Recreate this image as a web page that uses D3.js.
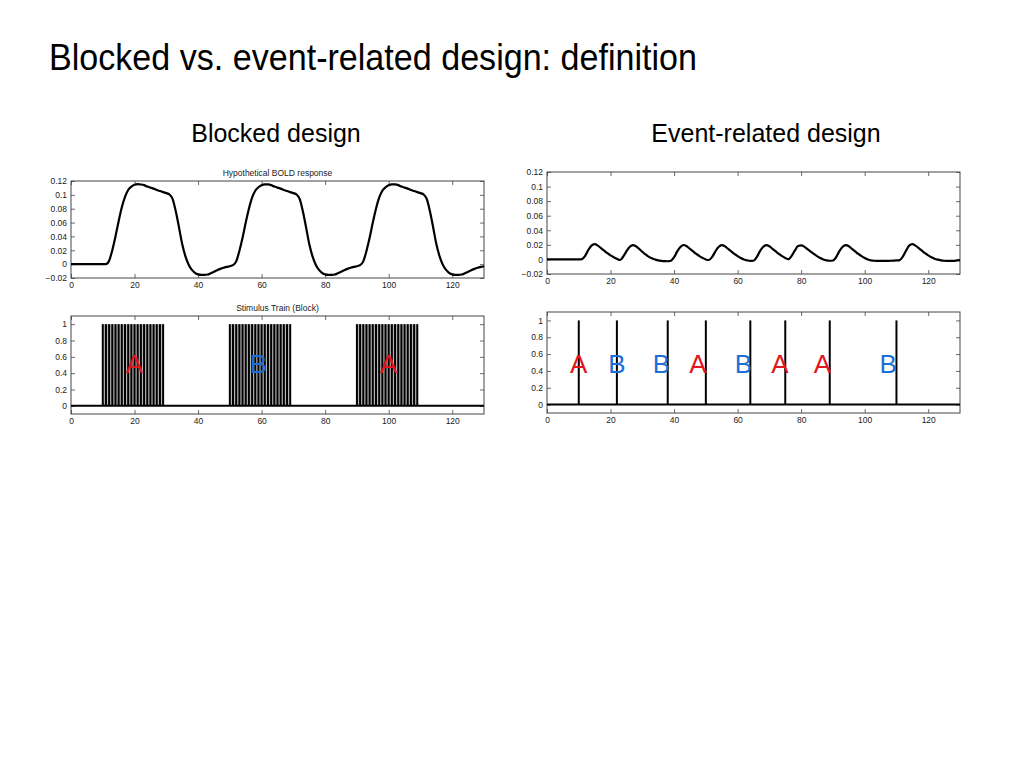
<!DOCTYPE html>
<html>
<head>
<meta charset="utf-8">
<script src="https://cdn.jsdelivr.net/npm/d3@7"></script>
<style>
  html, body { margin: 0; padding: 0; background: #fff; }
  svg { display: block; }
  text { font-family: "Liberation Sans", Arial, Helvetica, sans-serif; }
</style>
</head>
<body>
<svg id="chart" width="1024" height="768"></svg>
<script>
// ---------------- data ----------------
const pageTitle = "Blocked vs. event-related design: definition";
const leftHeading = "Blocked design";
const rightHeading = "Event-related design";
const boldTitle = "Hypothetical BOLD response";
const stimBlockTitle = "Stimulus Train (Block)";

const xTicks = [0, 20, 40, 60, 80, 100, 120];
const boldYTicks = [-0.02, 0, 0.02, 0.04, 0.06, 0.08, 0.1, 0.12];
const boldYLabels = ["\u22120.02", "0", "0.02", "0.04", "0.06", "0.08", "0.1", "0.12"];
const stimYTicks = [0, 0.2, 0.4, 0.6, 0.8, 1];
const stimYLabels = ["0", "0.2", "0.4", "0.6", "0.8", "1"];

// time (s), 0..130
const time = d3.range(0, 131);

// Blocked-design BOLD response
const boldBlock = [
  0,0,0,0,0,0,0,0,0,0,            // 0-9
  0,0,0.005,0.02,0.04,0.062,0.082,0.097,0.107,0.112, // 10-19
  0.1145,0.1155,0.115,0.114,0.112,0.1105,0.109,0.107,0.1055,0.104, // 20-29
  0.1025,0.1005,0.094,0.076,0.053,0.029,0.0115,-0.0005,-0.008,-0.0125, // 30-39
  -0.0148,-0.0156,-0.0155,-0.015,-0.013,-0.011,-0.0088,-0.0068,-0.0052,-0.004, // 40-49
  -0.003,-0.0015,0.004,0.019,0.038,0.06,0.08,0.096,0.106,0.111, // 50-59
  0.114,0.1152,0.115,0.114,0.112,0.1105,0.109,0.107,0.1055,0.104, // 60-69
  0.1025,0.1005,0.094,0.076,0.053,0.029,0.0115,-0.0005,-0.008,-0.0125, // 70-79
  -0.0148,-0.0156,-0.0155,-0.015,-0.013,-0.011,-0.0088,-0.0068,-0.0052,-0.004, // 80-89
  -0.003,-0.0015,0.004,0.019,0.038,0.06,0.08,0.096,0.106,0.111, // 90-99
  0.114,0.1152,0.115,0.114,0.112,0.1105,0.109,0.107,0.1055,0.104, // 100-109
  0.1025,0.1005,0.094,0.076,0.053,0.029,0.0115,-0.0005,-0.008,-0.0125, // 110-119
  -0.0148,-0.0156,-0.0155,-0.015,-0.013,-0.011,-0.0088,-0.0068,-0.0052,-0.004, // 120-129
  -0.003 // 130
];

// Event-related BOLD response
const boldEvent = [
  0,0,0,0,0,0,0,0,0,0,                       // 0-9
  0,0.0005,0.005,0.013,0.019,0.021,0.019,0.0155,0.012,0.0085, // 10-19
  0.0055,0.003,0.0008,-0.0008,0.004,0.011,0.017,0.0195,0.018,0.0145, // 20-29
  0.0105,0.0068,0.0038,0.0015,0.0,-0.0013,-0.002,-0.0024,-0.0025,-0.0018, // 30-39
  0.003,0.011,0.017,0.0198,0.018,0.0145,0.011,0.0075,0.0045,0.002, // 40-49
  0.0,-0.0008,0.0035,0.011,0.017,0.0195,0.018,0.0145,0.011,0.0075, // 50-59
  0.0045,0.002,0.0,-0.0012,-0.002,-0.0018,0.003,0.011,0.017,0.0195, // 60-69
  0.018,0.0145,0.011,0.0075,0.0045,0.002,0.0003,0.005,0.012,0.0185, // 70-79
  0.0192,0.0175,0.0142,0.0108,0.0075,0.0045,0.002,0.0,-0.0012,-0.0018, // 80-89
  -0.0015,0.003,0.011,0.017,0.0195,0.018,0.0145,0.011,0.0075,0.0045, // 90-99
  0.002,0.0,-0.0012,-0.0018,-0.002,-0.0021,-0.0021,-0.002,-0.0018,-0.0016, // 100-109
  -0.0014,-0.001,0.004,0.012,0.019,0.021,0.019,0.0155,0.012,0.0085, // 110-119
  0.0055,0.003,0.001,-0.0003,-0.0012,-0.0018,-0.002,-0.0021,-0.002,-0.0015, // 120-129
  -0.001 // 130
];

// Block stimulus onsets (one per second within each block)
const blockStarts = [10, 50, 90];
const blockEnds = [29, 69, 109];
const blockLabels = ["A", "B", "A"];
const blockLabelX = [20, 59, 100];
const blockStimuli = [
  10,11,12,13,14,15,16,17,18,19,20,21,22,23,24,25,26,27,28,29,
  50,51,52,53,54,55,56,57,58,59,60,61,62,63,64,65,66,67,68,69,
  90,91,92,93,94,95,96,97,98,99,100,101,102,103,104,105,106,107,108,109
];

// Event-related stimulus onsets
const eventTimes = [10, 22, 38, 50, 64, 75, 89, 110];
const eventLabels = ["A", "B", "B", "A", "B", "A", "A", "B"];
const eventLabelX = [10, 22, 36, 47.5, 61.8, 73.3, 86.7, 107.4];

const labelColor = { A: "#e3161e", B: "#1d6fd8" };

// ---------------- drawing ----------------
const svg = d3.select("#chart");

svg.append("text").attr("x", 49).attr("y", 70)
  .attr("font-size", 37).attr("fill", "#000")
  .attr("textLength", 648).attr("lengthAdjust", "spacingAndGlyphs")
  .text(pageTitle);

svg.append("text").attr("x", 276).attr("y", 142).attr("text-anchor", "middle")
  .attr("font-size", 25).attr("fill", "#000").text(leftHeading);
svg.append("text").attr("x", 766).attr("y", 142).attr("text-anchor", "middle")
  .attr("font-size", 25).attr("fill", "#000").text(rightHeading);

function panel(box, yDomain, yTicks, yLabels, title) {
  const x = d3.scaleLinear().domain([0, 130]).range([box.x0, box.x1]);
  const y = d3.scaleLinear().domain(yDomain).range([box.y1, box.y0]);
  const g = svg.append("g");
  const tickLen = 4;
  const frame = "#444";

  const styleAxis = sel => {
    sel.select(".domain").remove();
    sel.selectAll(".tick line").attr("stroke", frame).attr("stroke-width", 0.8);
    sel.selectAll(".tick text").attr("fill", "#222").attr("font-size", 8.5)
      .attr("font-family", "Liberation Sans, Arial, sans-serif");
  };

  g.append("g").attr("transform", `translate(0,${box.y1})`)
    .call(d3.axisBottom(x).tickValues(xTicks).tickSize(-tickLen).tickPadding(4).tickFormat(d3.format("d")))
    .call(styleAxis);
  g.append("g").attr("transform", `translate(0,${box.y0})`)
    .call(d3.axisTop(x).tickValues(xTicks).tickSize(-tickLen).tickFormat(""))
    .call(styleAxis);
  g.append("g").attr("transform", `translate(${box.x0},0)`)
    .call(d3.axisLeft(y).tickValues(yTicks).tickSize(-tickLen).tickPadding(4)
      .tickFormat((d, i) => yLabels[i]))
    .call(styleAxis);
  g.append("g").attr("transform", `translate(${box.x1},0)`)
    .call(d3.axisRight(y).tickValues(yTicks).tickSize(-tickLen).tickFormat(""))
    .call(styleAxis);

  g.append("rect").attr("x", box.x0).attr("y", box.y0)
    .attr("width", box.x1 - box.x0).attr("height", box.y1 - box.y0)
    .attr("fill", "none").attr("stroke", frame).attr("stroke-width", 1);

  if (title) {
    g.append("text").attr("x", (box.x0 + box.x1) / 2).attr("y", box.y0 - 5)
      .attr("text-anchor", "middle").attr("font-size", 8.5).attr("fill", "#222")
      .text(title);
  }
  return { x, y, g };
}

function boldPanel(box, values, title) {
  const p = panel(box, [-0.02, 0.12], boldYTicks, boldYLabels, title);
  const line = d3.line().x((d, i) => p.x(time[i])).y(d => p.y(d)).curve(d3.curveMonotoneX);
  p.g.append("path").datum(values).attr("d", line)
    .attr("fill", "none").attr("stroke", "#000").attr("stroke-width", 2.2)
    .attr("stroke-linejoin", "round");
}

// Top-left: blocked BOLD
boldPanel({ x0: 71, x1: 484, y0: 181, y1: 278 }, boldBlock, boldTitle);
// Top-right: event-related BOLD
boldPanel({ x0: 547, x1: 960, y0: 172, y1: 274 }, boldEvent, null);

// Bottom-left: block stimulus train
{
  const p = panel({ x0: 71, x1: 484, y0: 316, y1: 414 }, [-0.1, 1.1], stimYTicks, stimYLabels, stimBlockTitle);
  p.g.selectAll("rect.blk").data(blockStarts).join("rect").attr("class", "blk")
    .attr("x", d => p.x(d)).attr("y", p.y(1))
    .attr("width", (d, i) => p.x(blockEnds[i]) - p.x(d)).attr("height", p.y(0) - p.y(1))
    .attr("fill", "#b4b4b4");
  p.g.selectAll("line.stim").data(blockStimuli).join("line").attr("class", "stim")
    .attr("x1", d => p.x(d)).attr("x2", d => p.x(d))
    .attr("y1", p.y(0)).attr("y2", p.y(1))
    .attr("stroke", "#000").attr("stroke-width", 2);
  p.g.append("line").attr("x1", p.x(0)).attr("x2", p.x(130))
    .attr("y1", p.y(0)).attr("y2", p.y(0)).attr("stroke", "#000").attr("stroke-width", 2);
  p.g.selectAll("text.lbl").data(blockLabels).join("text").attr("class", "lbl")
    .attr("x", (d, i) => p.x(blockLabelX[i])).attr("y", p.y(0.405))
    .attr("text-anchor", "middle").attr("font-size", 26)
    .attr("fill", d => labelColor[d]).text(d => d);
}

// Bottom-right: event-related stimulus train
{
  const p = panel({ x0: 547, x1: 960, y0: 312, y1: 413 }, [-0.1, 1.1], stimYTicks, stimYLabels, null);
  p.g.selectAll("line.stim").data(eventTimes).join("line").attr("class", "stim")
    .attr("x1", d => p.x(d)).attr("x2", d => p.x(d))
    .attr("y1", p.y(0)).attr("y2", p.y(1))
    .attr("stroke", "#000").attr("stroke-width", 2);
  p.g.append("line").attr("x1", p.x(0)).attr("x2", p.x(130))
    .attr("y1", p.y(0)).attr("y2", p.y(0)).attr("stroke", "#000").attr("stroke-width", 2);
  p.g.selectAll("text.lbl").data(eventLabels).join("text").attr("class", "lbl")
    .attr("x", (d, i) => p.x(eventLabelX[i])).attr("y", p.y(0.37))
    .attr("text-anchor", "middle").attr("font-size", 26)
    .attr("fill", d => labelColor[d]).text(d => d);
}
</script>
</body>
</html>
